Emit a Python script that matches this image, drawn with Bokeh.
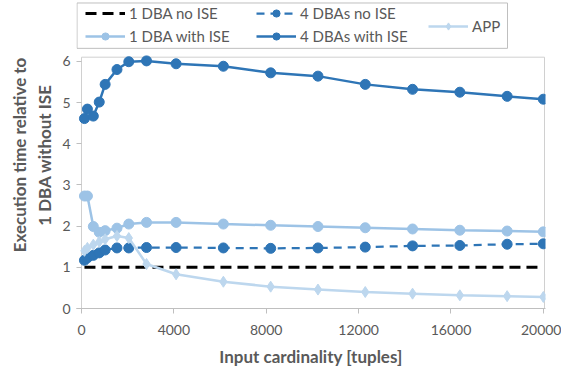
from bokeh.plotting import figure
from bokeh.models import Legend, LegendItem, Range1d, FixedTicker
from bokeh.embed import file_html
from bokeh.resources import INLINE

cardinality = [128, 256, 512, 768, 1024, 1536, 2048, 2816, 4096, 6144, 8192, 10240, 12288, 14336, 16384, 18432, 20000]
one_dba_no_ise = [1.0] * len(cardinality)
four_dba_no_ise = [1.17, 1.23, 1.29, 1.35, 1.42, 1.47, 1.47, 1.48, 1.48, 1.47, 1.46, 1.47, 1.49, 1.52, 1.53, 1.56, 1.57]
one_dba_with_ise = [2.73, 2.73, 1.99, 1.85, 1.89, 1.95, 2.05, 2.09, 2.09, 2.05, 2.02, 1.99, 1.96, 1.93, 1.90, 1.88, 1.86]
four_dba_with_ise = [4.61, 4.84, 4.67, 5.01, 5.44, 5.80, 5.99, 6.01, 5.94, 5.88, 5.72, 5.64, 5.44, 5.32, 5.25, 5.15, 5.08]
app = [1.40, 1.47, 1.55, 1.62, 1.68, 1.76, 1.71, 1.08, 0.83, 0.65, 0.53, 0.46, 0.40, 0.36, 0.32, 0.30, 0.28]
x_ticks = [0, 4000, 8000, 12000, 16000, 20000]
y_ticks = [0, 1, 2, 3, 4, 5, 6]
series_names = ["1 DBA no ISE", "4 DBAs no ISE", "1 DBA with ISE", "4 DBAs with ISE", "APP"]

FONT = "Lato"
GRAY = "#595959"
DARK = "#2E75B6"
LIGHT = "#9DC3E6"
LIGHTER = "#BDD7EE"

# plot-area extent (data) and pixel scales
X_MAX, Y_MAX = 20050, 6.1
KX = 463 / X_MAX          # px per x unit
KY = 248 / 6.0            # px per y unit

p = figure(width=561, height=369, output_backend="svg", toolbar_location=None,
           x_range=Range1d(-5 / KX, X_MAX + 1 / KX),
           y_range=Range1d(0, 308 / KY),
           min_border_left=76, min_border_right=16, min_border_bottom=60, min_border_top=1)
p.outline_line_color = None
p.grid.visible = False
p.background_fill_color = "white"
p.border_fill_color = "white"

for ax in (p.xaxis[0], p.yaxis[0]):
    ax.major_tick_line_color = "#BFBFBF"
    ax.minor_tick_line_color = None
    ax.major_label_text_font = FONT
    ax.major_label_text_font_size = "14px"
    ax.major_label_text_color = GRAY
    ax.axis_label_text_font = FONT
    ax.axis_label_text_font_size = "17px"
    ax.axis_label_text_font_style = "bold"
    ax.axis_label_text_color = GRAY

p.xaxis[0].axis_line_color = "#BFBFBF"
p.xaxis[0].major_tick_out = 5
p.xaxis[0].major_tick_in = 0
p.yaxis[0].axis_line_color = None
p.yaxis[0].major_tick_out = 0
p.yaxis[0].major_tick_in = 5

p.xaxis[0].ticker = FixedTicker(ticks=x_ticks)
p.yaxis[0].ticker = FixedTicker(ticks=y_ticks)
p.xaxis[0].axis_label = "Input cardinality [tuples]"
p.yaxis[0].axis_label = "Execution time relative to\n1 DBA without ISE"
p.xaxis[0].major_label_standoff = 11
p.xaxis[0].axis_label_standoff = 8
p.yaxis[0].major_label_standoff = 6
p.yaxis[0].axis_label_standoff = 4

# plot-area box (frame decoration)
p.quad(left=[0], right=[X_MAX], bottom=[0], top=[Y_MAX],
       fill_color=None, line_color="#D0D0D0", line_width=1)

STYLES = {
    "1 DBA no ISE": dict(color="black", width=3, dash="11 6", marker=None, size=0),
    "4 DBAs no ISE": dict(color=DARK, width=2.25, dash="8 6", marker="circle", size=10),
    "1 DBA with ISE": dict(color=LIGHT, width=2.5, dash="solid", marker="circle", size=10),
    "4 DBAs with ISE": dict(color=DARK, width=2.5, dash="solid", marker="circle", size=10),
    "APP": dict(color=LIGHTER, width=2.5, dash="solid", marker="diamond", size=11),
}
DATA = {
    "1 DBA no ISE": one_dba_no_ise,
    "4 DBAs no ISE": four_dba_no_ise,
    "1 DBA with ISE": one_dba_with_ise,
    "4 DBAs with ISE": four_dba_with_ise,
    "APP": app,
}
draw_order = ["1 DBA no ISE", "1 DBA with ISE", "4 DBAs no ISE", "4 DBAs with ISE", "APP"]

renderers = {}
for name in draw_order:
    s = STYLES[name]
    ys = DATA[name]
    rs = [p.line(cardinality, ys, line_color=s["color"], line_width=s["width"], line_dash=s["dash"])]
    if s["marker"]:
        rs.append(p.scatter(cardinality, ys, marker=s["marker"], size=s["size"],
                            fill_color=s["color"], line_color=s["color"]))
    renderers[name] = rs

# legend frame (decoration; pixel positions converted to this frame's units)
p.quad(left=[-4.5 / KX], right=[(507 - 81) / KX],
       top=[(309 - 2.5) / KY], bottom=[(309 - 48) / KY],
       fill_color="white", line_color="#BFBFBF", line_width=1)


def style(legend):
    legend.label_text_font = FONT
    legend.label_text_font_size = "15px"
    legend.label_text_color = GRAY
    legend.border_line_color = None
    legend.background_fill_alpha = 0
    legend.glyph_width = 40
    legend.glyph_height = 18
    legend.label_height = 18
    legend.label_standoff = 4
    legend.spacing = 5
    legend.padding = 0
    legend.margin = 0


legend_a = Legend(items=[LegendItem(label=n, renderers=renderers[n]) for n in series_names[:4]],
                  orientation="horizontal", ncols=2)
style(legend_a)
legend_a.label_width = 122
legend_a.location = (9, 263)
p.add_layout(legend_a, "center")

legend_b = Legend(items=[LegendItem(label="APP", renderers=renderers["APP"])])
style(legend_b)
legend_b.location = (352, 273)
p.add_layout(legend_b, "center")

open("out.html", "w").write(file_html(p, INLINE))
